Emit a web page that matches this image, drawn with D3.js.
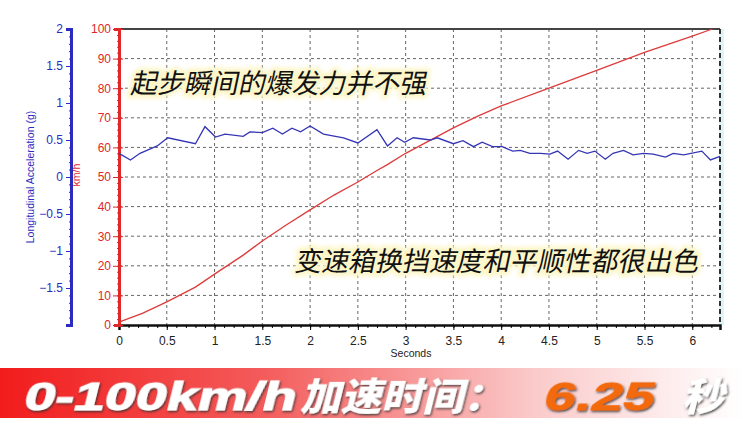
<!DOCTYPE html>
<html><head><meta charset="utf-8">
<script src="https://cdn.jsdelivr.net/npm/d3@7"></script>
<style>
html,body{margin:0;padding:0;background:#fff;}
svg{display:block;}
</style></head>
<body>
<svg id="c" width="743" height="424"></svg>
<script>
// ---- data ----
const accelTime = [0,0.12,0.22,0.40,0.51,0.80,0.90,1.01,1.11,1.30,1.37,1.50,1.61,1.71,1.81,1.90,2.00,2.14,2.35,2.50,2.70,2.81,2.91,2.99,3.08,3.26,3.33,3.50,3.60,3.71,3.80,3.91,4.01,4.12,4.20,4.30,4.41,4.51,4.59,4.70,4.81,4.90,4.98,5.09,5.17,5.28,5.38,5.49,5.59,5.72,5.80,5.91,6.10,6.19,6.29];
const accelG = [0.32,0.23,0.32,0.42,0.53,0.45,0.68,0.54,0.58,0.55,0.61,0.60,0.66,0.58,0.66,0.61,0.69,0.58,0.53,0.46,0.64,0.42,0.53,0.47,0.53,0.50,0.53,0.45,0.49,0.41,0.47,0.41,0.41,0.35,0.36,0.32,0.32,0.31,0.35,0.24,0.36,0.32,0.35,0.24,0.32,0.36,0.30,0.32,0.31,0.27,0.32,0.30,0.35,0.23,0.28];
const speedTime = [0,0.25,0.5,0.8,1.0,1.3,1.5,1.75,2.0,2.25,2.5,2.7,2.8,3.0,3.25,3.5,3.75,4.0,4.5,5.0,5.5,6.0,6.21];
const speedKmh = [1,4,7.8,12.8,17.2,23.6,28.4,33.8,38.9,43.9,48.3,52.2,54.0,58,62.3,66.6,70.5,74,80,86,92.1,97.6,100];
const xTicks = [0,0.5,1,1.5,2,2.5,3,3.5,4,4.5,5,5.5,6];
const speedTicks = [0,10,20,30,40,50,60,70,80,90,100];
const gTicks = [-1.5,-1,-0.5,0,0.5,1,1.5,2];
const note1 = "起步瞬间的爆发力并不强";
const note2 = "变速箱换挡速度和平顺性都很出色";
const bannerLatin = "0-100km/h";
const bannerCjk = "加速时间：";
const bannerNum = "6.25";
const bannerUnit = "秒";

// ---- layout ----
const svg = d3.select("#c");
const L = 119, R = 720, T = 29, B = 325;
const x = d3.scaleLinear().domain([0, 6.29]).range([L, R]);
const yS = d3.scaleLinear().domain([0, 100]).range([B, T]);
const yG = d3.scaleLinear().domain([-2, 2]).range([B, T]);
const RED = "#e02828", BLUE = "#2b2bc0";

const defs = svg.append("defs");
const grad = defs.append("linearGradient").attr("id","bg").attr("x1","0").attr("x2","1");
grad.append("stop").attr("offset","0").attr("stop-color","#f21c1c");
grad.append("stop").attr("offset","0.35").attr("stop-color","#f45a5a");
grad.append("stop").attr("offset","0.72").attr("stop-color","#fbcaca");
grad.append("stop").attr("offset","1").attr("stop-color","#ffffff");
const sh = defs.append("filter").attr("id","sh").attr("x","-10%").attr("y","-30%").attr("width","120%").attr("height","160%");
sh.append("feDropShadow").attr("dx",1.5).attr("dy",1.5).attr("stdDeviation",1.2).attr("flood-color","#333").attr("flood-opacity",0.85);
const glow = defs.append("filter").attr("id","glow").attr("x","-5%").attr("y","-30%").attr("width","110%").attr("height","160%");
glow.append("feGaussianBlur").attr("stdDeviation",2);

// grid
const g = svg.append("g");
g.selectAll(".vg").data(xTicks.filter(d=>d>0)).join("line")
  .attr("x1",d=>x(d)).attr("x2",d=>x(d)).attr("y1",T).attr("y2",B)
  .attr("stroke","#666").attr("stroke-width",1).attr("stroke-dasharray","3,3");
g.selectAll(".hg").data(speedTicks.filter(d=>d>0&&d<100)).join("line")
  .attr("x1",L).attr("x2",R).attr("y1",d=>yS(d)).attr("y2",d=>yS(d))
  .attr("stroke","#666").attr("stroke-width",1).attr("stroke-dasharray","3,3");

// top and right border
svg.append("line").attr("x1",L).attr("x2",R).attr("y1",T).attr("y2",T).attr("stroke","#444").attr("stroke-width",2);
svg.append("rect").attr("x",R-1).attr("y",T).attr("width",5).attr("height",B-T).attr("fill","#dff4f6");
svg.append("line").attr("x1",R).attr("x2",R).attr("y1",T).attr("y2",B).attr("stroke","#333").attr("stroke-width",2).attr("stroke-dasharray","5,3");

// x axis
const xAxis = svg.append("g").attr("transform",`translate(0,${B})`)
  .call(d3.axisBottom(x).tickValues(xTicks).tickSize(5).tickPadding(6).tickFormat(d3.format("")));
xAxis.select(".domain").attr("stroke","#111").attr("stroke-width",2.5);
xAxis.selectAll("text").attr("font-family","Liberation Sans, Arial").attr("font-size",12).attr("fill","#222");
const xMinor = svg.append("g").attr("transform",`translate(0,${B})`)
  .call(d3.axisBottom(x).tickValues(d3.range(0,63).map(i=>i/10)).tickSize(3).tickFormat(""));
xMinor.select(".domain").remove();
svg.append("text").attr("x",411).attr("y",357).attr("text-anchor","middle")
  .attr("font-family","Liberation Sans, Arial").attr("font-size",10.5).attr("fill","#222").text("Seconds");

// speed axis (red)
const sAxis = svg.append("g").attr("transform",`translate(${L},0)`)
  .call(d3.axisLeft(yS).tickValues(speedTicks).tickSize(5).tickPadding(3));
sAxis.select(".domain").attr("stroke",RED).attr("stroke-width",3);
sAxis.selectAll(".tick line").attr("stroke",RED).attr("x2",-6).attr("x1",4);
sAxis.selectAll("text").attr("font-family","Liberation Sans, Arial").attr("font-size",12).attr("fill",RED);
const sMinor = svg.append("g").attr("transform",`translate(${L},0)`)
  .call(d3.axisLeft(yS).tickValues(d3.range(0,101,2)).tickSize(2).tickFormat(""));
sMinor.select(".domain").remove();
sMinor.selectAll("line").attr("stroke",RED);
svg.append("text").attr("transform",`translate(80,${(T+B)/2 - 2}) rotate(-90)`).attr("text-anchor","middle")
  .attr("font-family","Liberation Sans, Arial").attr("font-size",10.5).attr("fill",RED).text("km/h");

// accel axis (blue)
const gAxis = svg.append("g").attr("transform",`translate(71,0)`)
  .call(d3.axisLeft(yG).tickValues(gTicks).tickSize(5).tickPadding(3).tickFormat(d3.format("")));
gAxis.select(".domain").attr("stroke",BLUE).attr("stroke-width",3);
gAxis.selectAll(".tick line").attr("stroke",BLUE);
gAxis.selectAll("text").attr("font-family","Liberation Sans, Arial").attr("font-size",12).attr("fill",BLUE);
const gMinor = svg.append("g").attr("transform",`translate(71,0)`)
  .call(d3.axisLeft(yG).tickValues(d3.range(-20,21).map(i=>i/10)).tickSize(2).tickFormat(""));
gMinor.select(".domain").remove();
gMinor.selectAll("line").attr("stroke",BLUE);
svg.append("text").attr("transform",`translate(34,${(T+B)/2}) rotate(-90)`).attr("text-anchor","middle")
  .attr("font-family","Liberation Sans, Arial").attr("font-size",10.5).attr("fill",BLUE).text("Longitudinal Acceleration (g)");

// lines
svg.append("path").datum(speedTime.map((t,i)=>[t,speedKmh[i]]))
  .attr("d",d3.line().x(d=>x(d[0])).y(d=>yS(d[1])))
  .attr("fill","none").attr("stroke","#dd3b3b").attr("stroke-width",1.3);
svg.append("path").datum(accelTime.map((t,i)=>[t,accelG[i]]))
  .attr("d",d3.line().x(d=>x(d[0])).y(d=>yG(d[1])))
  .attr("fill","none").attr("stroke","#3535b5").attr("stroke-width",1.3);

// annotations
function note(txt, px, py, len){
  const gg = svg.append("g").attr("transform",`translate(${px},${py}) skewX(-12)`);
  gg.append("text").attr("font-family","Noto Sans CJK SC").attr("font-size",27).attr("font-weight",400)
    .attr("textLength",len).attr("lengthAdjust","spacingAndGlyphs")
    .attr("fill","#fdf6c8").attr("stroke","#fdf6c8").attr("stroke-width",7).attr("stroke-linejoin","round")
    .attr("filter","url(#glow)").text(txt);
  gg.append("text").attr("font-family","Noto Sans CJK SC").attr("font-size",27).attr("font-weight",400)
    .attr("textLength",len).attr("lengthAdjust","spacingAndGlyphs")
    .attr("fill","#111").text(txt);
}
note(note1, 130, 93, 296);
note(note2, 294, 271, 404);

// banner
svg.append("rect").attr("x",0).attr("y",368).attr("width",743).attr("height",50).attr("fill","url(#bg)");
const bt = svg.append("g").attr("transform","translate(22,410) skewX(-14)").attr("filter","url(#sh)");
bt.append("text").attr("x",0).attr("font-family","Liberation Sans, Arial").attr("font-weight",700).attr("font-size",39)
  .attr("fill","#fff").attr("stroke","#fff").attr("stroke-width",1.2)
  .attr("textLength",272).attr("lengthAdjust","spacingAndGlyphs").text(bannerLatin);
bt.append("text").attr("x",278).attr("font-family","Noto Sans CJK SC").attr("font-weight",900).attr("font-size",37)
  .attr("fill","#fff").attr("textLength",204).attr("lengthAdjust","spacingAndGlyphs").text(bannerCjk);
bt.append("text").attr("x",520).attr("font-family","Liberation Sans, Arial").attr("font-weight",700).attr("font-size",40)
  .attr("fill","#f26a0c").attr("stroke","#f26a0c").attr("stroke-width",0.8)
  .attr("textLength",110).attr("lengthAdjust","spacingAndGlyphs").text(bannerNum);
bt.append("text").attr("x",660).attr("font-family","Noto Sans CJK SC").attr("font-weight",900).attr("font-size",37)
  .attr("fill","#fff").attr("textLength",42).attr("lengthAdjust","spacingAndGlyphs").text(bannerUnit);
</script>
</body></html>
